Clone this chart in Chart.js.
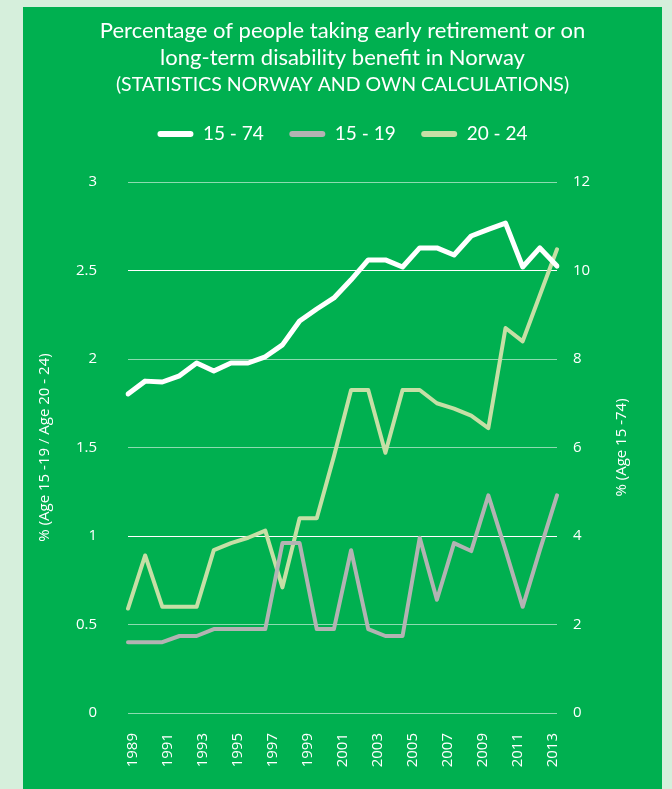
<!DOCTYPE html>
<html>
<head>
<meta charset="utf-8">
<script src="https://cdn.jsdelivr.net/npm/chart.js@4"></script>
<style>
  body { margin: 0; background: #d6efdc; }
  #panel { position: absolute; left: 23px; top: 7px; width: 639px; height: 782px; background: #00b050; }
</style>
</head>
<body>
<div id="panel"><canvas id="myChart" width="639" height="782"></canvas></div>
<script>
// Werte (26 Punkte, Achse zeigt 1989-2013)
const periods = ['1988', '1989', '1990', '1991', '1992', '1993', '1994', '1995', '1996', '1997', '1998', '1999', '2000',
                 '2001', '2002', '2003', '2004', '2005', '2006', '2007', '2008', '2009', '2010', '2011', '2012', '2013'];
const yearTicks = [1989, 1991, 1993, 1995, 1997, 1999, 2001, 2003, 2005, 2007, 2009, 2011, 2013];

const age15to74 = [7.21, 7.50, 7.48, 7.62, 7.91, 7.73, 7.91, 7.91, 8.05, 8.32, 8.86, 9.13, 9.38,
                   9.79, 10.24, 10.24, 10.08, 10.51, 10.51, 10.35, 10.78, 10.93, 11.07, 10.08, 10.51, 10.10];
const age15to19 = [0.40, 0.40, 0.40, 0.435, 0.435, 0.474, 0.474, 0.474, 0.474, 0.96, 0.96, 0.474, 0.474,
                   0.92, 0.474, 0.435, 0.435, 0.99, 0.64, 0.96, 0.915, 1.23, 0.92, 0.60, 0.92, 1.23];
const age20to24 = [0.59, 0.89, 0.60, 0.60, 0.60, 0.92, 0.96, 0.99, 1.03, 0.71, 1.10, 1.10, 1.45,
                   1.825, 1.825, 1.47, 1.825, 1.825, 1.75, 1.72, 1.68, 1.61, 2.175, 2.10, 2.36, 2.62];

const titleLines = ['Percentage of people taking early retirement or on',
                    'long-term disability benefit in Norway'];
const sourceLine = '(STATISTICS NORWAY AND OWN CALCULATIONS)';
const leftTitle = '% (Age 15 -19 / Age 20 - 24)';
const rightTitle = '% (Age 15 -74)';

// Achsentitel, beide von unten nach oben gelesen
const axisTitles = {
    id: 'axisTitles',
    afterDraw(chart) {
        const {ctx, chartArea, scales} = chart;
        const midY = (chartArea.top + chartArea.bottom) / 2;
        ctx.save();
        ctx.fillStyle = '#ffffff';
        ctx.font = '15px "Open Sans"';
        ctx.textAlign = 'center';
        ctx.textBaseline = 'middle';
        [[scales.yL.left + 22, leftTitle], [scales.yR.right - 40, rightTitle]].forEach(([x, text]) => {
            ctx.save();
            ctx.translate(x, midY);
            ctx.rotate(-Math.PI / 2);
            ctx.fillText(text, 0, 0);
            ctx.restore();
        });
        ctx.restore();
    }
};

const tickFont = { family: 'Open Sans', size: 15 };

const config = {
    type: 'line',
    data: {
        labels: periods,
        datasets: [{
            label: '15 - 74',
            data: age15to74,
            borderColor: '#ffffff',
            backgroundColor: '#ffffff',
            borderWidth: 5,
            yAxisID: 'yR'
        },
        {
            label: '15 - 19',
            data: age15to19,
            borderColor: '#b3b3b3',
            backgroundColor: '#b3b3b3',
            borderWidth: 4,
            yAxisID: 'yL'
        },
        {
            label: '20 - 24',
            data: age20to24,
            borderColor: '#c6dfa6',
            backgroundColor: '#c6dfa6',
            borderWidth: 4,
            yAxisID: 'yL'
        }]
    },
    options: {
        responsive: false,
        animation: false,
        layout: { padding: 0 },
        elements: {
            point: { radius: 0 },
            line: { tension: 0, borderCapStyle: 'round', borderJoinStyle: 'round' }
        },
        datasets: { line: { xAxisID: 'xd' } },
        plugins: {
            title: {
                display: true,
                text: titleLines,
                color: '#ffffff',
                font: { family: 'Lato', size: 22, weight: 'normal', lineHeight: '27px' },
                padding: { top: 10, bottom: 0 }
            },
            subtitle: {
                display: true,
                text: sourceLine,
                color: '#ffffff',
                font: { family: 'Lato', size: 19.5, weight: 'normal', lineHeight: '28px' },
                padding: 0
            },
            legend: {
                labels: {
                    color: '#ffffff',
                    font: { family: 'Lato', size: 19 },
                    boxWidth: 36,
                    boxHeight: 6,
                    useBorderRadius: true,
                    borderRadius: 3,
                    padding: 25.5,
                    generateLabels: chart => Chart.defaults.plugins.legend.labels.generateLabels(chart)
                        .map(item => ({ ...item, lineWidth: 0 }))
                }
            },
            tooltip: { enabled: false }
        },
        scales: {
            // Datenachse (26 Punkte) oben, leer, dient als Abstand unter der Legende
            xd: {
                type: 'category',
                position: 'top',
                grid: { display: false, drawTicks: false },
                border: { display: false },
                ticks: { display: false },
                afterFit: axis => { axis.height = 28.5; }
            },
            x: {
                type: 'linear',
                position: 'bottom',
                min: 1988.75,
                max: 2013.25,
                grid: { display: false, drawTicks: false },
                border: { display: false },
                afterBuildTicks: axis => { axis.ticks = yearTicks.map(v => ({ value: v })); },
                afterFit: axis => { axis.height = 76; },
                ticks: {
                    color: '#ffffff',
                    font: tickFont,
                    minRotation: 90,
                    maxRotation: 90,
                    autoSkip: false,
                    padding: 20,
                    callback: v => String(v)
                }
            },
            yL: {
                position: 'left',
                min: 0,
                max: 3,
                afterFit: axis => { axis.width = 105; },
                border: { display: false },
                grid: {
                    drawTicks: false,
                    lineWidth: 1,
                    color: c => (c.tick && (c.tick.value === 2.5 || c.tick.value === 1)) ? '#ffffff' : 'rgba(255,255,255,0.55)'
                },
                ticks: { stepSize: 0.5, color: '#ffffff', font: tickFont, padding: 31, callback: v => String(v) }
            },
            yR: {
                position: 'right',
                min: 0,
                max: 12,
                afterFit: axis => { axis.width = 105; },
                border: { display: false },
                grid: { display: false, drawTicks: false },
                ticks: { stepSize: 2, color: '#ffffff', font: tickFont, padding: 16 }
            }
        }
    },
    plugins: [axisTitles]
};

const ctx = document.querySelector('#myChart').getContext('2d');
new Chart(ctx, config);
</script>
</body>
</html>
